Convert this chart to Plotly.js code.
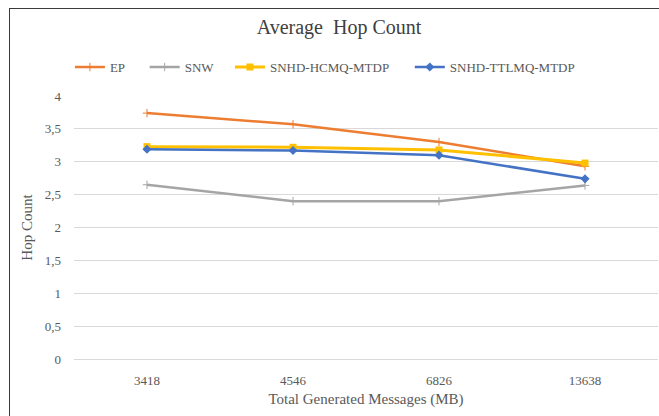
<!DOCTYPE html>
<html>
<head>
<meta charset="utf-8">
<script src="https://cdn.plot.ly/plotly-3.0.1.min.js"></script>
<style>
html,body{margin:0;padding:0;background:#fff;}
#wrap{position:relative;width:659px;height:416px;overflow:hidden;}
#chart{width:659px;height:416px;}
#frame{position:absolute;left:9px;top:8px;width:680px;height:440px;border:1.5px solid #3a3a3a;pointer-events:none;box-sizing:border-box;}
</style>
</head>
<body>
<div id="wrap"><div id="chart"></div><div id="frame"></div></div>
<script>
var categories = ["3418", "4546", "6826", "13638"];
var epValues = [3.74, 3.57, 3.30, 2.93];
var snwValues = [2.65, 2.40, 2.40, 2.64];
var hcmqValues = [3.23, 3.22, 3.18, 2.98];
var ttlmqValues = [3.19, 3.17, 3.10, 2.74];
var seriesNames = ["EP", "SNW", "SNHD-HCMQ-MTDP", "SNHD-TTLMQ-MTDP"];
var yTickVals = [0, 0.5, 1, 1.5, 2, 2.5, 3, 3.5, 4];
var yTickText = ["0", "0,5", "1", "1,5", "2", "2,5", "3", "3,5", "4"];

var font = "Liberation Serif, Times New Roman, serif";
function tr(name, y, color, symbol, size, lw, leg) {
  return {
    type: "scatter", mode: "lines+markers", name: name,
    x: categories, y: y, legend: leg,
    line: {color: color, width: lw},
    marker: {color: color, symbol: symbol, size: size}
  };
}
var data = [
  tr(seriesNames[0], epValues, "#ED7D31", "cross-thin-open", 6, 2.5, "legend"),
  tr(seriesNames[1], snwValues, "#A5A5A5", "cross-thin-open", 6, 2.5, "legend2"),
  tr(seriesNames[2], hcmqValues, "#FFC000", "square", 7, 3, "legend3"),
  tr(seriesNames[3], ttlmqValues, "#4472C4", "diamond", 7, 2.5, "legend4")
];
function leg(x) {
  return {orientation: "h", x: x, xanchor: "left", y: 1.11, yanchor: "middle",
          bgcolor: "rgba(0,0,0,0)", font: {family: font, size: 13, color: "#595959"}};
}
var layout = {
  width: 659, height: 416,
  margin: {l: 74, r: 1, t: 96, b: 57},
  paper_bgcolor: "#fff", plot_bgcolor: "#fff",
  font: {family: font, color: "#595959", size: 13},
  title: {text: "Average  Hop Count", x: 0.5145, xanchor: "center", y: 0.935, yanchor: "middle",
          font: {family: font, size: 20, color: "#404040"}},
  showlegend: true,
  legend: leg(-0.007),
  legend2: leg(0.121),
  legend3: leg(0.267),
  legend4: leg(0.575),
  xaxis: {type: "category", categoryorder: "array", categoryarray: categories, range: [-0.5, 3.5],
          showgrid: false, showline: true, linecolor: "#d9d9d9", linewidth: 1,
          ticks: "", ticklabelstandoff: 9, tickfont: {family: font, size: 13, color: "#595959"},
          title: {text: "Total Generated Messages (MB)", font: {family: font, size: 15, color: "#595959"}, standoff: 6}},
  yaxis: {range: [0, 4], tickvals: yTickVals, ticktext: yTickText,
          showgrid: true, gridcolor: "#d9d9d9", gridwidth: 1, zeroline: false, showline: false,
          ticks: "", ticklabelstandoff: 12, tickfont: {family: font, size: 13, color: "#595959"},
          title: {text: "Hop Count", font: {family: font, size: 15, color: "#595959"}, standoff: 8}}
};
Plotly.newPlot("chart", data, layout, {displayModeBar: false, staticPlot: true});
</script>
</body>
</html>
